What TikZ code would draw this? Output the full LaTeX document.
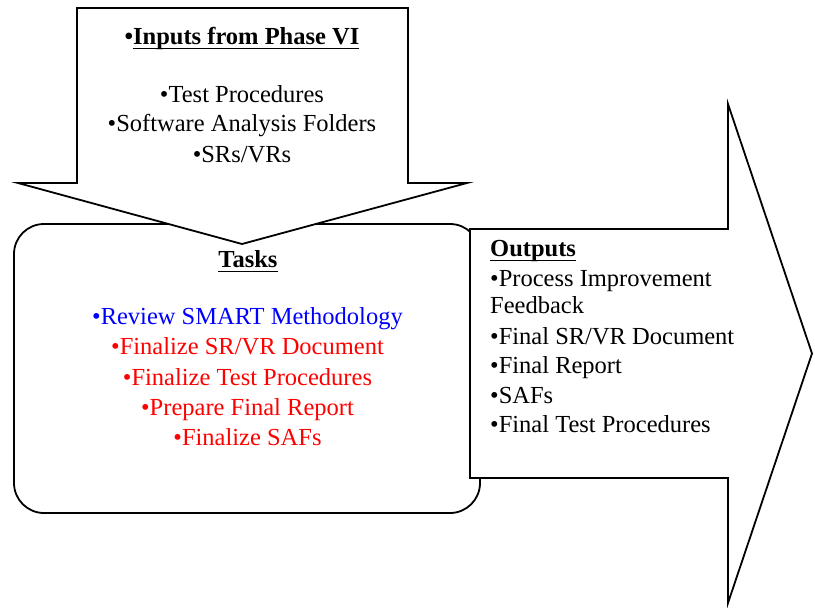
\documentclass[tikz,border=0pt]{standalone}
\usepackage{fontspec}
\setmainfont{Liberation Serif}
\newcommand\myul[1]{\setbox0\hbox{#1}\rlap{\rule[-5pt]{\wd0}{1.5pt}}\box0}
\definecolor{tblue}{RGB}{0,0,255}
\definecolor{tred}{RGB}{255,0,0}
\begin{document}
\begin{tikzpicture}[x=1pt,y=-1pt,
  shp/.style={draw=black,fill=white,line width=1.8pt,line join=miter},
  txt/.style={font=\fontsize{24.5}{28}\selectfont,inner sep=0pt,anchor=base},
  ltxt/.style={txt,anchor=base west}]
\useasboundingbox (0,0) rectangle (815,608);
% Tasks box
\draw[shp,rounded corners=30pt] (14,224) rectangle (480,513);
% Inputs down arrow
\draw[shp] (77,8) -- (408,8) -- (408,183) -- (467,183) -- (242,244) -- (18,183) -- (77,183) -- cycle;
% Outputs right arrow
\draw[shp] (470,229) -- (728,229) -- (728,104) -- (812,353.5) -- (728,603) -- (728,478) -- (470,478) -- cycle;
% Inputs text
\node[txt] (in0) at (242,44) {\textbf{•\myul{Inputs from Phase VI}}};
\node[txt] (in1) at (242,102) {•Test Procedures};
\node[txt] (in2) at (242,131.5) {•Software Analysis Folders};
\node[txt] (in3) at (242,162) {•SRs/VRs};
% Tasks text
\node[txt] (t0) at (248,267) {\textbf{\myul{Tasks}}};
\node[txt,text=tblue] (t1) at (247.5,324.5) {•Review SMART Methodology};
\node[txt,text=tred] (t2) at (247.5,354.5) {•Finalize SR/VR Document};
\node[txt,text=tred] (t3) at (247.5,385) {•Finalize Test Procedures};
\node[txt,text=tred] (t4) at (247.5,415) {•Prepare Final Report};
\node[txt,text=tred] (t5) at (247.5,445) {•Finalize SAFs};
% Outputs text
\node[ltxt] (o0) at (490,256) {\textbf{\myul{Outputs}}};
\node[ltxt] (o1) at (490,286) {•Process Improvement};
\node[ltxt] (o1b) at (490,313) {Feedback};
\node[ltxt] (o2) at (490,344) {•Final SR/VR Document};
\node[ltxt] (o3) at (490,373.5) {•Final Report};
\node[ltxt] (o4) at (490,403) {•SAFs};
\node[ltxt] (o5) at (490,432) {•Final Test Procedures};
\end{tikzpicture}
\end{document}
